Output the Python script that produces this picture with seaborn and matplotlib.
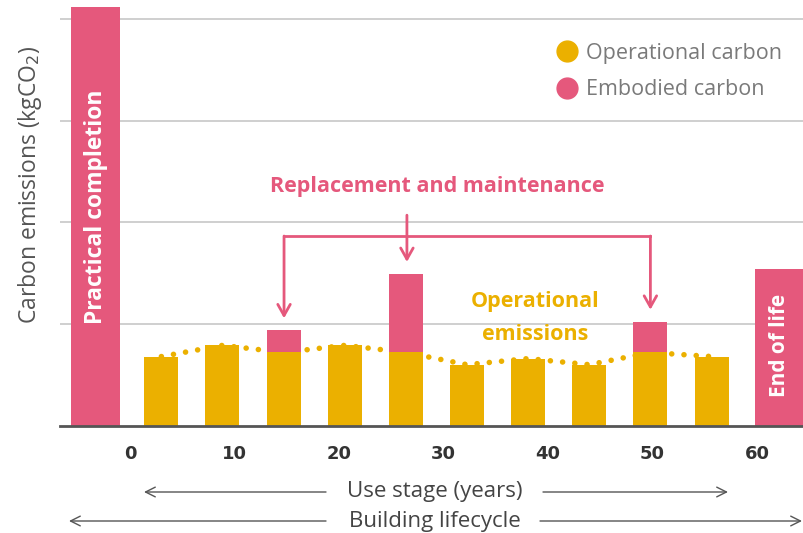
import matplotlib
matplotlib.use("Agg")
import matplotlib.pyplot as plt
from matplotlib.lines import Line2D
import seaborn as sns
import pandas as pd

# Bar data (y in gridline units, axis has no numeric labels)
use_years = [3.0, 8.85, 14.7, 20.55, 26.4, 32.25, 38.1, 43.95, 49.8, 55.65]
operational = [0.68, 0.79, 0.72, 0.79, 0.72, 0.60, 0.66, 0.60, 0.72, 0.68]
embodied = [0.0, 0.0, 0.22, 0.0, 0.77, 0.0, 0.0, 0.0, 0.30, 0.0]
end_years = [-3.3, 62.15]
end_embodied = [5.0, 1.54]
end_labels = ["Practical completion", "End of life"]
tick_years = [0, 10, 20, 30, 40, 50, 60]

ORANGE = "#EBB000"
PINK = "#E5587C"
GREY_TXT = "#7a7a7a"

sns.set_style("white")
plt.rcParams["font.family"] = ["Open Sans", "DejaVu Sans"]

df = pd.DataFrame({"year": use_years, "operational": operational, "embodied": embodied})
df["total"] = df["operational"] + df["embodied"]
ends = pd.DataFrame({"year": end_years, "value": end_embodied})

fig = plt.figure(figsize=(8.04, 5.33), dpi=100)
ax = fig.add_axes([60 / 804, 1 - 425.7 / 533, 1 - 60 / 804, (425.7 - 7) / 533])

# gridlines
for g in [1, 2, 3, 4]:
    ax.axhline(g, color="#cccccc", lw=1.3, zorder=0)

# dotted operational trend behind bars
sns.lineplot(data=df, x="year", y="operational", ax=ax, color=ORANGE, lw=4,
             linestyle=(0, (0.01, 2.2)), dash_capstyle="round", zorder=1)

# stacked bars: total in pink, operational on top in orange
sns.barplot(data=df, x="year", y="total", ax=ax, native_scale=True, orient="x",
            color=PINK, saturation=1, width=0.556, errorbar=None, linewidth=0, zorder=2)
sns.barplot(data=df, x="year", y="operational", ax=ax, native_scale=True, orient="x",
            color=ORANGE, saturation=1, width=0.556, errorbar=None, linewidth=0, zorder=3)
sns.barplot(data=ends, x="year", y="value", ax=ax, native_scale=True, orient="x",
            color=PINK, saturation=1, width=4.7 / (end_years[1] - end_years[0]),
            errorbar=None, linewidth=0, zorder=2)

ax.set_xlim(-6.7, 64.5)
ax.set_ylim(0, (425.7 - 7) / 101.7)
ax.set_yticks([])
ax.set_xticks(tick_years)
ax.set_xticklabels([str(t) for t in tick_years], fontweight="bold", fontsize=13,
                   color="#333333", family=["DejaVu Sans"])
ax.tick_params(axis="x", length=0, pad=14)
ax.set_xlabel("")
ax.set_ylabel("")
for s in ["top", "right", "left"]:
    ax.spines[s].set_visible(False)
ax.spines["bottom"].set_color("#555555")
ax.spines["bottom"].set_linewidth(2)
ax.spines["bottom"].set_zorder(5)

# bar labels inside the end bars
ax.text(end_years[0], 2.15, end_labels[0], rotation=90, color="white", fontsize=16.5,
        fontweight="bold", ha="center", va="center", zorder=6)
ax.text(end_years[1], 0.79, end_labels[1], rotation=90, color="white", fontsize=15,
        fontweight="bold", ha="center", va="center", zorder=6)

# replacement annotation
ax.text(29.4, 2.35, "Replacement and maintenance", color=PINK, fontsize=15.5,
        fontweight="bold", ha="center", va="center")
arrow = dict(arrowstyle="->,head_length=0.8,head_width=0.45", color=PINK, lw=2,
             shrinkA=0, shrinkB=0)
ax.annotate("", xy=(26.5, 1.61), xytext=(26.5, 2.07), arrowprops=arrow)
ax.annotate("", xy=(14.74, 1.056), xytext=(14.74, 1.865), arrowprops=arrow)
ax.annotate("", xy=(49.8, 1.14), xytext=(49.8, 1.865), arrowprops=arrow)
ax.plot([14.74, 49.8], [1.865, 1.865], color=PINK, lw=2, solid_capstyle="projecting")

ax.text(38.75, 1.06, "Operational\nemissions", color=ORANGE, fontsize=15.5,
        fontweight="bold", ha="center", va="center", linespacing=1.75, zorder=6)

# legend
handles = [Line2D([], [], marker="o", ls="", markersize=15, color=ORANGE),
           Line2D([], [], marker="o", ls="", markersize=15, color=PINK)]
leg = fig.legend(handles, ["Operational carbon", "Embodied carbon"], loc="upper left",
                 bbox_to_anchor=(556 / 804, 1 - 43 / 533), frameon=False, fontsize=15.5,
                 handlelength=1.0, handletextpad=0.4, labelspacing=0.7,
                 borderaxespad=0, borderpad=0)
for t in leg.get_texts():
    t.set_color(GREY_TXT)

# y label
fig.text(30 / 804, 1 - 185 / 533, "Carbon emissions (kgCO$_2$)", rotation=90,
         color="#555555", fontsize=16.5, ha="center", va="center")

# bottom lifecycle arrows
garrow = dict(arrowstyle="->,head_length=0.7,head_width=0.35", color="#555555", lw=1,
              shrinkA=0, shrinkB=0)
for y, label, x0, x1, x2, x3 in [(41, "Use stage (years)", 326, 144, 543, 728),
                                 (12, "Building lifecycle", 326, 69, 540, 802)]:
    fig.text(435 / 804, y / 533, label, color="#444444", fontsize=16,
             ha="center", va="center")
    ax.annotate("", xy=(x1, y), xytext=(x0, y), xycoords="figure pixels",
                textcoords="figure pixels", arrowprops=garrow, annotation_clip=False)
    ax.annotate("", xy=(x3, y), xytext=(x2, y), xycoords="figure pixels",
                textcoords="figure pixels", arrowprops=garrow, annotation_clip=False)

fig.savefig("out.png", dpi=100)
